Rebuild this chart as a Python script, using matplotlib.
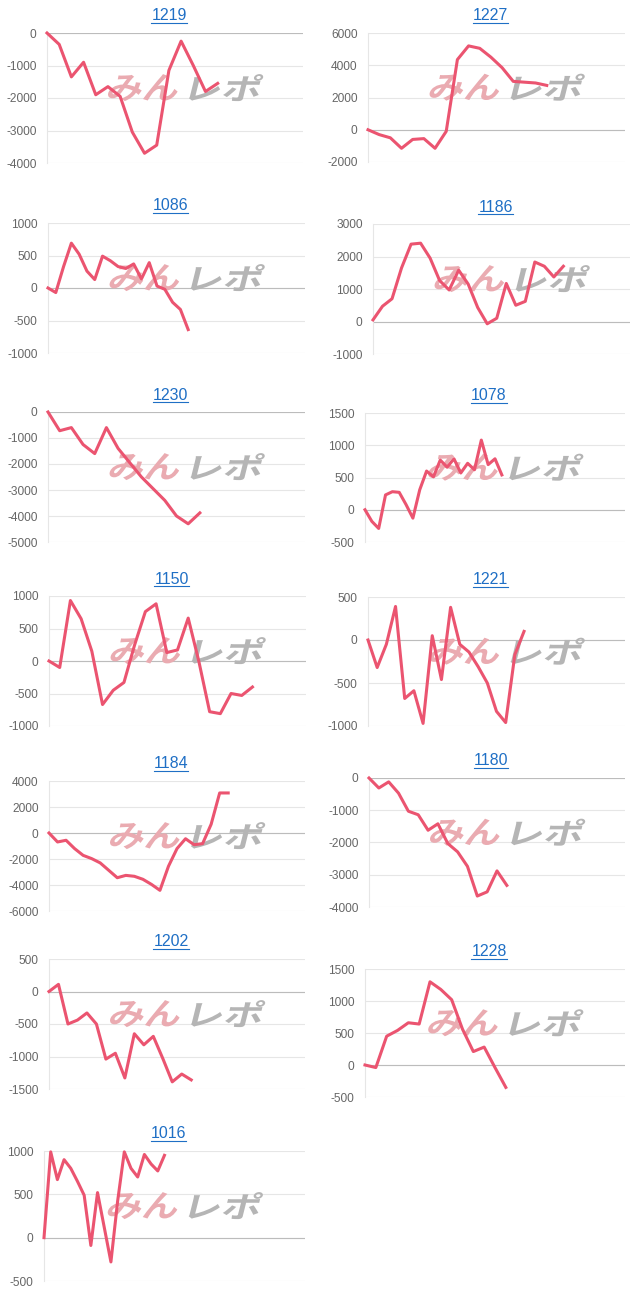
import matplotlib
matplotlib.use('Agg')
import matplotlib.pyplot as plt
from matplotlib.textpath import TextPath
from matplotlib.font_manager import FontProperties
from matplotlib.patches import PathPatch
from matplotlib.transforms import Affine2D
from matplotlib.lines import Line2D

plt.rcParams['axes.unicode_minus'] = False
plt.rcParams['font.family'] = ['Liberation Sans', 'DejaVu Sans']

# --- data ---
titles = ['1219', '1227', '1086', '1186', '1230', '1078', '1150',
          '1221', '1184', '1180', '1202', '1228', '1016']

v1219 = [0, -350, -1350, -900, -1900, -1650, -1950, -3050, -3700, -3450,
         -1150, -250, -1000, -1800, -1550]
v1227 = [0, -300, -500, -1150, -600, -550, -1150, -100, 4350, 5200, 5050,
         4500, 3850, 3000, 2950, 2900, 2750]
v1086 = [0, -70, 330, 690, 520, 260, 130, 490, 420, 330, 300, 370, 140,
         390, 30, -20, -220, -330, -640]
v1186 = [50, 470, 700, 1650, 2380, 2410, 1950, 1260, 970, 1580, 1150, 430,
         -70, 100, 1170, 500, 620, 1830, 1700, 1370, 1700]
v1230 = [0, -720, -600, -1250, -1600, -600, -1400, -1950, -2500, -2950,
         -3400, -4000, -4300, -3880]
v1078 = [0, -180, -290, 230, 280, 270, 80, -130, 310, 600, 510, 770, 660,
         790, 570, 720, 620, 1080, 700, 790, 540]
v1150 = [0, -100, 930, 650, 150, -670, -450, -330, 250, 760, 880, 130, 170,
         660, -10, -780, -810, -500, -530, -400]
v1221 = [0, -320, -50, 390, -680, -590, -970, 50, -460, 380, -50, -140,
         -310, -500, -830, -960, -170, 100]
v1184 = [0, -690, -560, -1200, -1720, -1970, -2300, -2870, -3440, -3260,
         -3330, -3560, -3950, -4410, -2560, -1200, -440, -900, -820, 670,
         3080, 3080]
v1180 = [0, -310, -120, -470, -1030, -1140, -1620, -1420, -2030, -2290,
         -2740, -3660, -3530, -2880, -3330]
v1202 = [0, 110, -500, -440, -330, -500, -1040, -950, -1330, -650, -820,
         -690, -1030, -1390, -1270, -1360]
v1228 = [0, -40, 450, 540, 660, 640, 1300, 1180, 1020, 560, 210, 280, -40,
         -350]
v1016 = [0, 990, 670, 900, 800, 650, 490, -90, 520, 120, -280, 420, 990,
         800, 700, 960, 850, 770, 950]

# number of x categories on each chart
slots = [22, 24, 34, 28, 23, 39, 25, 29, 31, 27, 28, 25, 40]

yt1219 = [-4000, -3000, -2000, -1000, 0]
yt1227 = [-2000, 0, 2000, 4000, 6000]
yt1086 = [-1000, -500, 0, 500, 1000]
yt1186 = [-1000, 0, 1000, 2000, 3000]
yt1230 = [-5000, -4000, -3000, -2000, -1000, 0]
yt1078 = [-500, 0, 500, 1000, 1500]
yt1150 = [-1000, -500, 0, 500, 1000]
yt1221 = [-1000, -500, 0, 500]
yt1184 = [-6000, -4000, -2000, 0, 2000, 4000]
yt1180 = [-4000, -3000, -2000, -1000, 0]
yt1202 = [-1500, -1000, -500, 0, 500]
yt1228 = [-500, 0, 500, 1000, 1500]
yt1016 = [-500, 0, 500, 1000]

series = [v1219, v1227, v1086, v1186, v1230, v1078, v1150, v1221, v1184,
          v1180, v1202, v1228, v1016]
yticks = [yt1219, yt1227, yt1086, yt1186, yt1230, yt1078, yt1150, yt1221,
          yt1184, yt1180, yt1202, yt1228, yt1016]

# plot boxes in pixels: left, right, top, bottom
boxes = [(47, 303, 33, 163), (368, 625, 33, 162),
         (48, 305, 223, 353), (373, 630, 224, 354),
         (48, 305, 412, 542), (365, 625, 413, 542),
         (49, 306, 596, 726), (368, 625, 597, 726),
         (49, 305, 781, 911), (369, 625, 778, 907),
         (49, 305, 959, 1089), (365, 625, 969, 1097),
         (44, 305, 1151, 1281)]

W, H = 640, 1303
LINE = '#eb5470'
LINK = '#1f6fc5'

fig = plt.figure(figsize=(W / 100, H / 100), dpi=100)
fp = FontProperties(family='Noto Sans CJK JP', weight='bold')


def logo(ax, cx, cy):
    for txt, col, x0, x1 in [('みん', '#eaabb1', -79, -3), ('レポ', '#b5b5b5', 3, 79)]:
        p = TextPath((0, 0), txt, size=1, prop=fp)
        e = p.get_extents()
        tr = (Affine2D().translate(-e.x0, -e.y0)
              .scale((x1 - x0 - 7) / e.width, 27 / e.height)
              .skew_deg(14, 0)
              .translate(cx + x0, H - cy - 13.5)
              .scale(1 / 100) + fig.dpi_scale_trans)
        ax.add_artist(PathPatch(p, transform=tr, fc=col, ec='none', zorder=1))


titles_txt = []
for name, vals, yt, n, (l, r, t, b) in zip(titles, series, yticks, slots, boxes):
    ax = fig.add_axes([l / W, 1 - b / H, (r - l) / W, (b - t) / H])
    ax.plot(range(len(vals)), vals, color=LINE, lw=2.2, zorder=3,
            solid_joinstyle='round', clip_on=False)
    ax.set_xlim(0, n - 1)
    ax.set_ylim(yt[0], yt[-1])
    ax.set_yticks(yt)
    ax.set_yticklabels([str(v) for v in yt])
    ax.set_xticks([])
    ax.set_axisbelow(True)
    ax.grid(axis='y', color='#e6e6e6', lw=0.8)
    if 0 in yt:
        ax.axhline(0, color='#bcbcbc', lw=0.8, zorder=0.6)
    for s in ['top', 'right', 'bottom']:
        ax.spines[s].set_visible(False)
    ax.spines['left'].set_color('#e6e6e6')
    ax.spines['left'].set_linewidth(0.8)
    ax.tick_params(axis='y', length=0, pad=7.5, labelsize=8.6, labelcolor='#666666')
    logo(ax, l + 0.54 * (r - l), t + 0.42 * (b - t))
    cx = (l + r) / 2 - 6
    base = t - 12.5
    tx = fig.text(cx / W, 1 - base / H, name, ha='center', va='baseline',
                  fontsize=11.5, color=LINK)
    titles_txt.append((tx, base))

fig.canvas.draw()
for tx, base in titles_txt:
    bb = tx.get_window_extent()
    y = 1 - (base + 2) / H
    fig.add_artist(Line2D([bb.x0 / W, bb.x1 / W], [y, y], color=LINK, lw=0.8))

fig.savefig('out.png', dpi=100)
